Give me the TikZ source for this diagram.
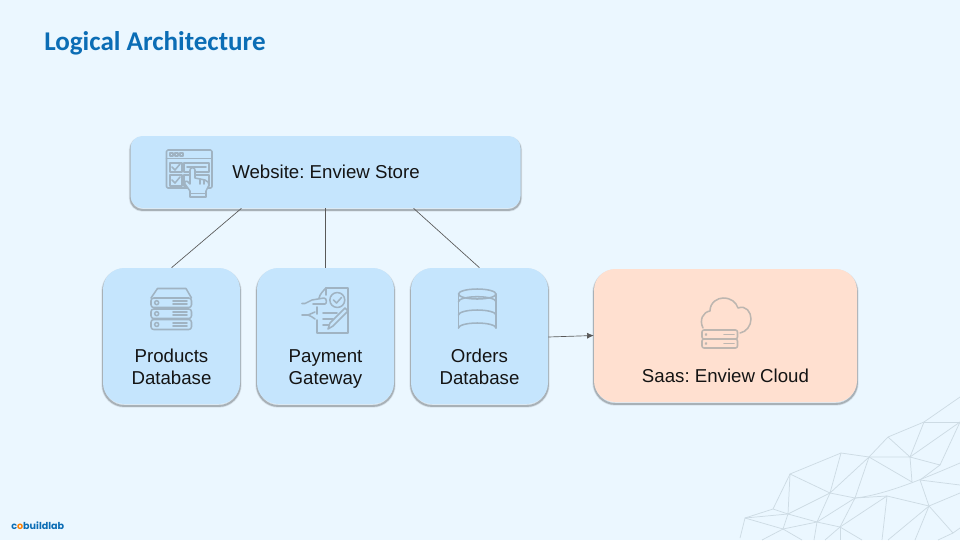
\documentclass[tikz,border=0pt]{standalone}
\usepackage{fontspec}
\setmainfont{Liberation Sans}
\newfontfamily\titlefont{Carlito}
\newfontfamily\logofont{Poppins}
\usetikzlibrary{arrows.meta}
\AtBeginDocument{\frenchspacing}
\definecolor{bgc}{HTML}{EBF7FF}
\definecolor{boxc}{HTML}{C5E5FD}
\definecolor{saasc}{HTML}{FFE0D0}
\definecolor{titlec}{HTML}{0B6DB5}
\definecolor{iconc}{HTML}{A0B3C2}
\definecolor{cloudc}{HTML}{BDB6B0}
\definecolor{meshc}{HTML}{CDDBE4}
\tikzset{
  softshadow/.style={
    preaction={draw=black,draw opacity=.08,line width=2.6pt,transform canvas={yshift=-1.5pt}},
    preaction={draw=black,draw opacity=.22,line width=1.4pt,transform canvas={yshift=-1.5pt}}},
  card/.style={softshadow,rounded corners=#1,fill=boxc,inner sep=0pt},
  lbl/.style={font=\fontsize{14}{16.5}\selectfont,text=black!92,align=center,inner sep=0pt},
  conn/.style={draw=black!65,line width=.5pt},
  icon/.style={draw=iconc,line width=1.15pt,line join=round,line cap=round},
  meshl/.style={draw=meshc,line width=.55pt}
}
\begin{document}
\begin{tikzpicture}[x=.75pt,y=-.75pt]
\fill[bgc] (0,0) rectangle (960,540);
\useasboundingbox (0,0) rectangle (960,540);
% mesh
\begin{scope}[meshl]
\coordinate (ma) at (745,518); \coordinate (mb) at (773,509); \coordinate (mc) at (790,474);
\coordinate (md) at (841,453); \coordinate (me) at (869,457); \coordinate (mf) at (888,437);
\coordinate (mg) at (924,422); \coordinate (mh) at (960,422); \coordinate (mi) at (960,397);
\coordinate (mj) at (910,457); \coordinate (mk) at (940,465); \coordinate (ml) at (912,482);
\coordinate (mm) at (830,493); \coordinate (mn) at (855,498); \coordinate (mu) at (887,496);
\coordinate (mv) at (920,480); \coordinate (mt) at (929,506); \coordinate (mp) at (788,514);
\coordinate (mq) at (817,522); \coordinate (mr) at (840,527); \coordinate (ms) at (783,529);
\coordinate (mw) at (953,533);
\draw (ma)--(mb)--(mc)--(md)--(me)--(mf)--(mg)--(mi);
\draw (mg)--(mh); \draw (mg)--(mj); \draw (mf)--(mj)--(me); \draw (mj)--(mk)--(mh);
\draw (mj)--(ml)--(me); \draw (mj)--(mh);
\draw (mc)--(mm)--(mn)--(mu)--(mt);
\draw (mn) .. controls (885,495) and (925,478) .. (960,463);
\draw (md)--(mm)--(mp)--(mb); \draw (mc)--(mp); \draw (me)--(mm);
\draw (me)--(mn)--(mq)--(mp)--(ms)--(ma); \draw (mm)--(mq); \draw (ma)--(mp);
\draw (mk)--(mv)--(mt); \draw (mv)--(960,485); \draw (mt)--(960,493);
\draw (mt)--(mw)--(960,528); \draw (mw)--(938,540);
\draw (mu)--(mr)--(mq)--(ms);
\draw (ms)--(762,540); \draw (ms)--(802,540); \draw (mq)--(814,540);
\draw (mr)--(825,540); \draw (mr)--(862,540); \draw (mu)--(882,540);
\draw (mt)--(888,540); \draw (mt)--(915,540);
\draw (ma)--(740,538); \draw (mr)--(840,540);
\draw (mn)--(mr);
\end{scope}
% title
\node[anchor=west,inner sep=0pt,text=titlec,font=\titlefont\bfseries\fontsize{20.3}{24}\selectfont] (title) at (44,43) {Logical Architecture};
% logo
\node[anchor=west,inner sep=0pt,text=titlec,font=\logofont\bfseries\fontsize{7.2}{8}\selectfont] (logo) at (11,526) {c\textcolor{orange}{o}buildlab};
% boxes
\node[card=9pt,minimum width=292.5pt,minimum height=54pt] (web) at (325.5,172) {};
\node[card=16pt,minimum width=102.75pt,minimum height=102pt] (prod) at (171.5,336) {};
\node[card=16pt,minimum width=102.75pt,minimum height=102pt] (pay) at (325.5,336) {};
\node[card=16pt,minimum width=102.75pt,minimum height=102pt] (ord) at (479.5,336) {};
\node[card=16pt,fill=saasc,minimum width=197.25pt,minimum height=99.75pt] (saas) at (725.5,335.5) {};
% labels
\node[lbl,anchor=west] (webl) at (232,172) {Website: Enview Store};
\node[lbl] (prodl) at (171.5,369) {\strut Products\\Database\strut};
\node[lbl] (payl) at (325.5,369) {\strut Payment\\Gateway\strut};
\node[lbl] (ordl) at (479.5,369) {\strut Orders\\Database\strut};
\node[lbl] (saasl) at (725.5,376) {Saas: Enview Cloud};
% connectors
\draw[conn] ([xshift=-63pt]web.south) -- (prod.north);
\draw[conn] (web.south) -- (pay.north);
\draw[conn] ([xshift=66pt]web.south) -- (ord.north);
\draw[conn,-{Latex[length=5pt,width=4.5pt]}] ([yshift=-.75pt]ord.east) -- (saas.west);
% website icon
\begin{scope}[icon]
\draw[rounded corners=1pt] (166.5,150) rectangle (212,188);
\draw (166.5,158.5)--(212,158.5);
\draw (170,153) rectangle +(3,3); \draw (175,153) rectangle +(3,3); \draw (180,153) rectangle +(3,3);
\draw (170,163) rectangle (182,172); \draw (170,175) rectangle (182,186);
\draw (172,167)--(175,170)--(180,164); \draw (172,180)--(175,183)--(180,177);
\draw (184,163) rectangle (209,172); \draw (187,167)--(206,167);
\draw (184,175) rectangle (209,186);
\draw[fill=boxc] (190,197)--(190,191)--(185,184) .. controls (184,181) and (187,180) .. (189,183)
  --(190,184)--(190,170) .. controls (190,167) and (195,167) .. (195,170)
  --(195,178)--(205,180) .. controls (208,181) and (209,183) .. (209,185)--(206,191)--(206,197)--cycle;
\draw (190,193.5)--(206,193.5); \draw (200,179)--(200,184); \draw (204,180)--(204,184);
\end{scope}
% products icon
\begin{scope}[icon]
\draw[rounded corners=2pt] (151,298) rectangle (191.5,307.5);
\draw[rounded corners=2pt] (151,309) rectangle (191.5,318.5);
\draw[rounded corners=2pt] (151,319.5) rectangle (191.5,329.5);
\draw (151,298)--(157.5,288.5)--(186,288.5)--(191.5,298);
\foreach \yy in {302.7,313.7,324.5}{
 \draw (156.7,\yy) circle (1.5pt);
 \draw (173,\yy-1.5)--(187,\yy-1.5); \draw (173,\yy+1.5)--(187,\yy+1.5);}
\end{scope}
% payment icon
\begin{scope}[icon]
\draw (326,295) -- (326,288)--(348,288)--(348,333)--(317,333)--(317,320);
\draw (317,314)--(317,307);
\draw (337.3,300) circle (5.6pt);
\draw (333.5,300)--(336.5,303)--(341.5,297.5);
\draw (302,303.5)--(305,303.5) .. controls (308,303.5) and (309,300) .. (312,300)--(324,298) (313,304)--(325,304) .. controls (327,304) and (327,298) .. (324,298)
  (319,298) .. controls (320,294) and (323,291) .. (326,288);
\draw (302,315)--(308,315) .. controls (311,315) and (312,312) .. (315,312)
  (308,315) .. controls (311,315) and (312,318) .. (315,319);
\draw (323,313)--(337,313) (323,319)--(333,319) (323,325)--(329,325);
\draw[fill=boxc] (345,308)--(348,311)--(333,326)--(328,329)--(330,323)--cycle;
\end{scope}
% database icon
\begin{scope}[icon]
\draw (458.5,294)--(458.5,328) (496,294)--(496,328);
\draw (477.25,294) ellipse[x radius=18.75,y radius=5];
\draw (458.5,328) arc[start angle=180,end angle=360,x radius=18.75,y radius=5];
\draw (458.5,301.7) arc[start angle=180,end angle=360,x radius=18.75,y radius=5];
\draw (458.5,315) arc[start angle=180,end angle=360,x radius=18.75,y radius=5];
\end{scope}
% cloud icon
\begin{scope}[icon,draw=cloudc]
\draw (703,328) .. controls (699,320) and (703,312) .. (710,311)
  .. controls (710,302) and (718,298) .. (723,298)
  .. controls (731,298) and (736,302) .. (738,308)
  .. controls (746,305) and (751,312) .. (751,319)
  .. controls (751,326) and (746,332) .. (740,333);
\draw[rounded corners=1.5pt] (702,330) rectangle (737.5,339);
\draw[rounded corners=1.5pt] (702,339) rectangle (737.5,348);
\draw (706,334.5) circle (.5pt); \draw (706,343.5) circle (.5pt);
\draw (724,334.5)--(734,334.5) (724,343.5)--(734,343.5);
\end{scope}
\end{tikzpicture}
\end{document}
